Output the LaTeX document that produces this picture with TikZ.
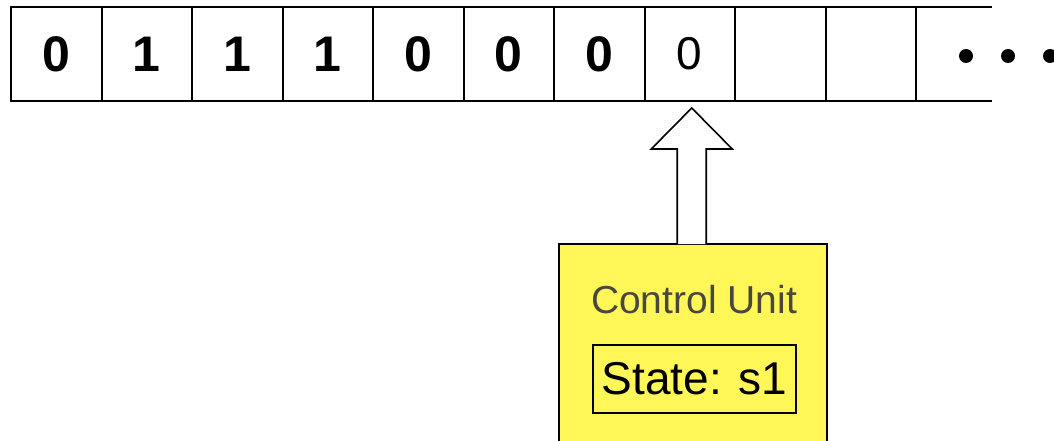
\documentclass[tikz,border=0pt]{standalone}
\usepackage{fontspec}
\setmainfont{Liberation Sans}
\usetikzlibrary{calc}
\definecolor{cuyellow}{RGB}{255,246,88}
\definecolor{cugray}{RGB}{72,72,60}
\begin{document}
\begin{tikzpicture}[x=1pt,y=-1pt,
  cell/.style={draw, line width=2pt, minimum width=90.5pt, minimum height=94pt, inner sep=0pt, outer sep=0pt, anchor=north west, font=\fontsize{50}{60}\selectfont\bfseries},
  plaincell/.style={cell, font=\fontsize{46}{56}\selectfont},
  tapeline/.style={line width=2pt},
  blockarrow/.style={draw, line width=1.6pt, fill=white, line join=miter},
  cubox/.style={draw, line width=1.2pt, fill=cuyellow, minimum width=268pt, minimum height=230pt, anchor=north west, inner sep=0pt, outer sep=0pt},
  statebox/.style={draw, line width=1.2pt, minimum width=203pt, minimum height=68pt, inner sep=0pt, font=\fontsize{46}{56}\selectfont},
  tapedot/.style={fill=black, circle, draw=none, inner sep=0pt, minimum size=14pt}]
\useasboundingbox (0,0) rectangle (1054,441);
\clip (0,0) rectangle (1054,441);
\fill[white] (0,0) rectangle (1054,441);
% tape
\node[cell] (c1) at (11,7) {0};
\node[cell] (c2) at (101.5,7) {1};
\node[cell] (c3) at (192,7) {1};
\node[cell] (c4) at (282.5,7) {1};
\node[cell] (c5) at (373,7) {0};
\node[cell] (c6) at (463.5,7) {0};
\node[cell] (c7) at (554,7) {0};
\node[plaincell] (c8) at (644.5,7) {0};
\node[cell] (c9) at (735,7) {};
\node[cell] (c10) at (825.5,7) {};
\coordinate (endtop) at (992,7);
\coordinate (endbot) at (992,101);
\draw[tapeline] (c10.north east) -- (endtop);
\draw[tapeline] (c10.south east) -- (endbot);
\node[tapedot] (d1) at (966,56) {};
\node[tapedot] (d2) at (1008,56) {};
\node[tapedot] (d3) at (1050,56) {};
% control unit
\node[cubox] (cu) at (559,244) {};
\node[font=\fontsize{39}{46}\selectfont, text=cugray] (cutext) at (694,300) {Control Unit};
\node[statebox] (state) at (694.5,379) {State: s1};
% block arrow from control unit to tape cell
\coordinate (tip) at ($(c8.south)+(2,7)$);
\coordinate (base) at (tip |- cu.north);
\draw[blockarrow] ($(base)+(-14.5,0)$) -- ($(tip)+(-14.5,41)$) -- ($(tip)+(-40.5,41)$) -- (tip)
  -- ($(tip)+(40.5,41)$) -- ($(tip)+(14.5,41)$) -- ($(base)+(14.5,0)$);
\end{tikzpicture}
\end{document}
